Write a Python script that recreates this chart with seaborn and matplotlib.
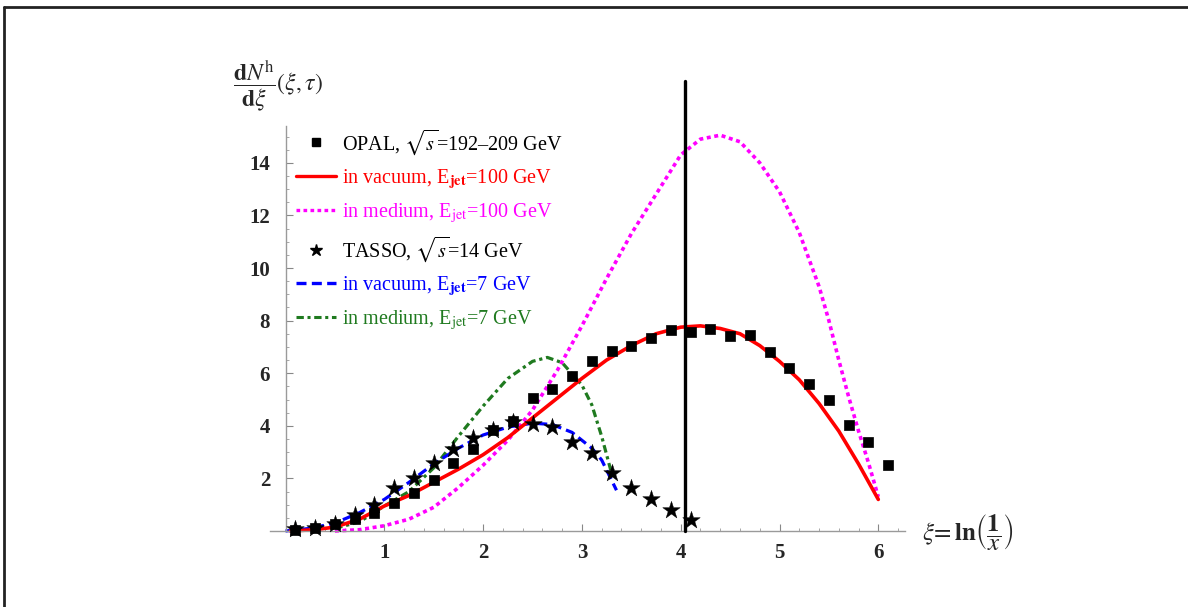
import numpy as np
import pandas as pd
import matplotlib
matplotlib.use("Agg")
import matplotlib.pyplot as plt
from matplotlib.lines import Line2D
from matplotlib.ticker import MultipleLocator, FixedLocator
import seaborn as sns

sns.set_theme(style="white")
plt.rcParams['font.family'] = ['Liberation Serif', 'DejaVu Serif']
plt.rcParams['mathtext.fontset'] = 'stix'

# ---------------- data ----------------
opal_xi = [0.1, 0.3, 0.5, 0.7, 0.9, 1.1, 1.3, 1.5, 1.7, 1.9, 2.1, 2.3, 2.5, 2.7, 2.9,
           3.1, 3.3, 3.5, 3.7, 3.9, 4.1, 4.3, 4.5, 4.7, 4.9, 5.1, 5.3, 5.5, 5.7, 5.9, 6.1]
opal_y = [0.04, 0.1, 0.25, 0.45, 0.7, 1.05, 1.45, 1.95, 2.6, 3.1, 3.85, 4.2, 5.05, 5.4, 5.9,
          6.45, 6.85, 7.05, 7.35, 7.65, 7.55, 7.68, 7.42, 7.45, 6.8, 6.2, 5.6, 5.0, 4.03, 3.38, 2.5]

tasso_xi = [0.1, 0.3, 0.5, 0.7, 0.9, 1.1, 1.3, 1.5, 1.7, 1.9, 2.1, 2.3, 2.5, 2.7, 2.9,
            3.1, 3.3, 3.5, 3.7, 3.9, 4.1]
tasso_y = [0.08, 0.13, 0.27, 0.6, 1.0, 1.65, 2.0, 2.6, 3.1, 3.55, 3.85, 4.15, 4.05, 3.95, 3.4,
           2.95, 2.2, 1.65, 1.2, 0.8, 0.42]

vac100_xi = [0.05, 0.3, 0.5, 0.75, 1.0, 1.25, 1.5, 1.75, 2.0, 2.25, 2.5, 2.75, 3.0, 3.25, 3.5,
             3.75, 4.0, 4.2, 4.4, 4.6, 4.8, 5.0, 5.2, 5.4, 5.6, 5.8, 6.0]
vac100_y = [0.0, 0.05, 0.15, 0.45, 0.95, 1.35, 1.85, 2.35, 2.9, 3.55, 4.3, 5.05, 5.8, 6.5, 7.05,
            7.5, 7.75, 7.8, 7.7, 7.5, 7.05, 6.45, 5.75, 4.85, 3.8, 2.55, 1.2]

med100_xi = [0.5, 0.75, 1.0, 1.25, 1.5, 1.75, 2.0, 2.25, 2.5, 2.75, 3.0, 3.25, 3.5, 3.75, 4.0,
             4.2, 4.4, 4.6, 4.8, 5.0, 5.2, 5.4, 5.5, 5.6, 5.7, 5.8, 5.9, 6.0]
med100_y = [0.0, 0.05, 0.2, 0.45, 0.9, 1.65, 2.5, 3.45, 4.6, 6.1, 7.8, 9.6, 11.3, 12.8, 14.3,
            14.9, 15.05, 14.8, 14.0, 12.9, 11.35, 9.3, 8.0, 6.5, 5.1, 3.8, 2.6, 1.3]

vac7_xi = [0.0, 0.25, 0.5, 0.75, 1.0, 1.25, 1.5, 1.75, 2.0, 2.25, 2.5, 2.7, 2.9, 3.1, 3.2, 3.35]
vac7_y = [0.0, 0.1, 0.3, 0.7, 1.2, 1.85, 2.55, 3.15, 3.65, 3.95, 4.1, 4.05, 3.75, 3.15, 2.7, 1.55]

med7_xi = [0.5, 0.75, 1.0, 1.25, 1.5, 1.75, 2.0, 2.25, 2.5, 2.65, 2.8, 3.0, 3.1, 3.2, 3.3]
med7_y = [0.1, 0.35, 0.95, 1.5, 2.4, 3.6, 4.75, 5.8, 6.45, 6.6, 6.4, 5.55, 4.8, 3.6, 2.2]

marker_line_xi = [4.04, 4.04]
marker_line_y = [0.0, 17.1]

x_ticks = [1, 2, 3, 4, 5, 6]
y_ticks = [2, 4, 6, 8, 10, 12, 14]

legend_labels = [
    r"OPAL, $\sqrt{s}$=192–209 GeV",
    r"in vacuum, E$_{\mathbf{jet}}$=100 GeV",
    r"in medium, E$_{\mathrm{jet}}$=100 GeV",
    r"TASSO, $\sqrt{s}$=14 GeV",
    r"in vacuum, E$_{\mathbf{jet}}$=7 GeV",
    r"in medium, E$_{\mathrm{jet}}$=7 GeV",
]

RED = "#ff0000"
MAG = "#ff00ff"
BLUE = "#0000ff"
GREEN = "#1f7a1f"

# ---------------- figure ----------------
W, H = 1188, 607
fig = plt.figure(figsize=(W / 100, H / 100), dpi=100)
fig.patch.set_facecolor("white")

xl = ((250 - 285.5) / 98.8, (910 - 285.5) / 98.8)
yl = ((531 - 545) / 26.3, (531 - 75) / 26.3)
ax = fig.add_axes([250 / W, 1 - 545 / H, 660 / W, 470 / H])
ax.set_facecolor("white")

def df(x, y):
    return pd.DataFrame({"x": x, "y": y})

MAG_LS = (0, (1.1, 1.0))
GREEN_LS = (0, (2.4, 1.2, 1.0, 1.2))
BLUE_LS = (0, (3.0, 1.6))

sns.lineplot(data=df(med100_xi, med100_y), x="x", y="y", ax=ax, color=MAG, lw=2.6,
             sort=False, estimator=None, linestyle=MAG_LS)
sns.lineplot(data=df(med7_xi, med7_y), x="x", y="y", ax=ax, color=GREEN, lw=2.3,
             sort=False, estimator=None, linestyle=GREEN_LS)
sns.lineplot(data=df(vac7_xi, vac7_y), x="x", y="y", ax=ax, color=BLUE, lw=2.3,
             sort=False, estimator=None, linestyle=BLUE_LS)
sns.lineplot(data=df(vac100_xi, vac100_y), x="x", y="y", ax=ax, color=RED, lw=2.6,
             sort=False, estimator=None)

sns.scatterplot(data=df(opal_xi, opal_y), x="x", y="y", ax=ax, marker="s", s=58,
                color="black", edgecolor="black", linewidth=0.5, zorder=5)
sns.scatterplot(data=df(tasso_xi, tasso_y), x="x", y="y", ax=ax, marker="*", s=175,
                color="black", edgecolor="black", linewidth=0.3, zorder=6)

sns.lineplot(data=df(marker_line_xi, marker_line_y), x="x", y="y", ax=ax, color="black",
             lw=2.4, sort=False, estimator=None, zorder=7)

ax.set_xlim(*xl)
ax.set_ylim(*yl)
ax.set_xlabel("")
ax.set_ylabel("")

for s in ["top", "right"]:
    ax.spines[s].set_visible(False)
ax.spines["left"].set_position(("data", 0))
ax.spines["bottom"].set_position(("data", 0))
ax.spines["left"].set_bounds(0, 15.4)
ax.spines["bottom"].set_bounds(-0.16, 6.27)
for s in ["left", "bottom"]:
    ax.spines[s].set_color("#9a9a9a")
    ax.spines[s].set_linewidth(1.0)
    ax.spines[s].set_visible(True)

ax.xaxis.set_major_locator(FixedLocator(x_ticks))
ax.yaxis.set_major_locator(FixedLocator(y_ticks))
ax.xaxis.set_minor_locator(FixedLocator([round(0.2 * i, 2) for i in range(0, 32)]))
ax.yaxis.set_minor_locator(FixedLocator([0.5 * i for i in range(1, 31)]))
ax.tick_params(axis="x", which="major", direction="in", length=5, width=0.8,
               color="#888888", pad=9, labelsize=15)
ax.tick_params(axis="x", which="minor", direction="in", length=2.5, width=0.6, color="#999999")
ax.tick_params(axis="y", which="major", direction="in", length=5, width=0.8,
               color="#888888", pad=11, labelsize=15)
ax.tick_params(axis="y", which="minor", direction="in", length=2.5, width=0.6, color="#999999")
ax.tick_params(bottom=True, left=True, which="both")
for lab in ax.get_xticklabels() + ax.get_yticklabels():
    lab.set_fontweight("bold")
ax.grid(False)

# legend
handles = [
    Line2D([], [], ls="none", marker="s", color="black", markersize=6),
    Line2D([], [], color=RED, lw=2.4),
    Line2D([], [], color=MAG, lw=2.4, linestyle=MAG_LS),
    Line2D([], [], ls="none", marker="*", color="black", markersize=9),
    Line2D([], [], color=BLUE, lw=2.4, linestyle=BLUE_LS),
    Line2D([], [], color=GREEN, lw=2.2, linestyle=GREEN_LS),
]
leg = fig.legend(handles, legend_labels, loc="upper left",
                 bbox_to_anchor=(296 / W, 1 - 127 / H), frameon=False, fontsize=14.5,
                 handlelength=2.0, handletextpad=0.3, labelspacing=0.5, borderpad=0,
                 borderaxespad=0,
                 labelcolor=["black", RED, MAG, "black", BLUE, GREEN])

# axis labels as text
fig.text(233 / W, 1 - 86 / H, r"$\dfrac{\mathbf{d}N^{\mathrm{h}}}{\mathbf{d}\xi}(\xi,\tau)$",
         fontsize=17, ha="left", va="center")
fig.text(922 / W, 1 - 532 / H, r"$\xi\!=\mathbf{ln}\left(\dfrac{\mathbf{1}}{x}\right)$",
         fontsize=18, ha="left", va="center")

# frame lines (top and left)
fig.add_artist(Line2D([4 / W, 4 / W], [0, 1 - 7 / H], transform=fig.transFigure,
                      color="#222222", lw=2.0))
fig.add_artist(Line2D([4 / W, 1], [1 - 7 / H, 1 - 7 / H], transform=fig.transFigure,
                      color="#222222", lw=2.0))

fig.savefig("out.png", dpi=100, facecolor="white")
